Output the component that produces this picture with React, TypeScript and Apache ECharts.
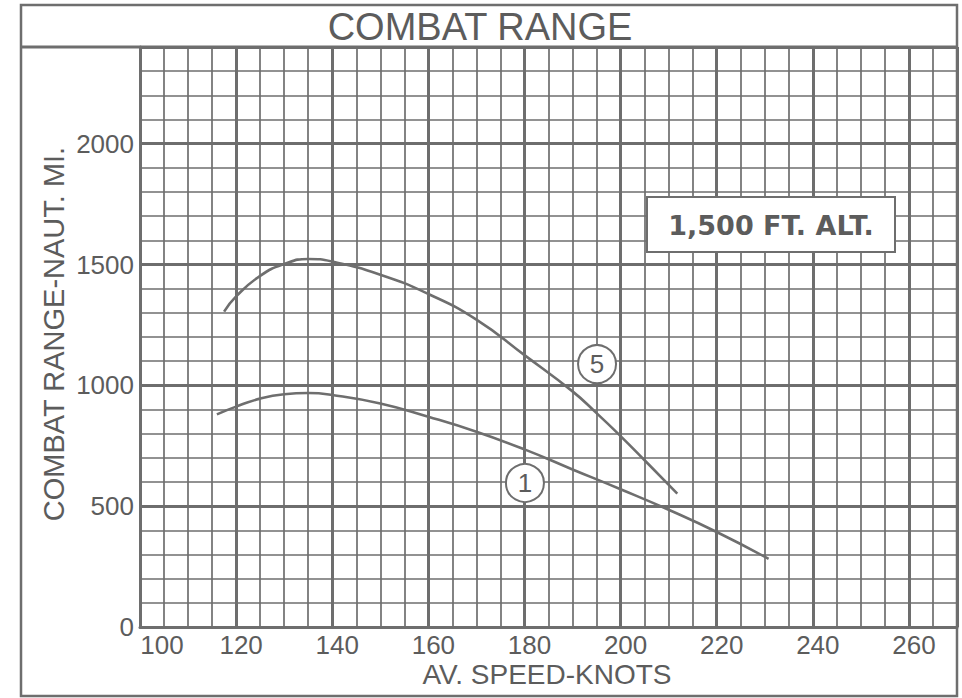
import React, { useEffect, useRef } from 'react';
import * as echarts from 'echarts';

// Curve "5"
const speed5 = [117.5, 120, 125, 130, 135, 140, 150, 160, 170, 180, 190, 195, 200, 205, 211.8];
const range5 = [1305, 1368, 1453, 1502, 1523, 1512, 1458, 1378, 1272, 1125, 975, 885, 790, 690, 552];
// Curve "1"
const speed1 = [116, 120, 125, 130, 135, 140, 150, 160, 170, 180, 190, 200, 210, 220, 230.8];
const range1 = [880, 912, 945, 963, 968, 960, 925, 870, 808, 735, 652, 570, 485, 393, 282];

const xTickLabels = ['100', '120', '140', '160', '180', '200', '220', '240', '260'];
const yTickLabels = ['0', '500', '1000', '1500', '2000'];

const curveNames = ['5', '1'];
const tag5 = [195.1, 1088];
const tag1 = [180.1, 596];

const chartTitle = 'COMBAT RANGE';
const xTitle = 'AV. SPEED-KNOTS';
const yTitle = 'COMBAT RANGE-NAUT. MI.';
const noteText = '1,500 FT. ALT.';

const GRAY = '#6e6e6e';
const TEXT = '#5c5c5c';
const FONT = "'Liberation Sans', Arial, sans-serif";

export default function App() {
  const ref = useRef<HTMLDivElement>(null);
  useEffect(() => {
    const chart = echarts.init(ref.current as HTMLDivElement, null, { renderer: 'svg' });
    const mkSeries = (name: string, xs: number[], ys: number[], tag: number[]) => ({
      type: 'line',
      name,
      data: xs.map((x, i) => [x, ys[i]]),
      smooth: 0.5,
      showSymbol: false,
      symbol: 'none',
      lineStyle: { color: GRAY, width: 2.6 },
      z: 5,
      markPoint: {
        symbol: 'circle',
        symbolSize: 38,
        itemStyle: { color: '#ffffff', borderColor: GRAY, borderWidth: 2 },
        label: { show: true, formatter: name, color: TEXT, fontSize: 26, fontFamily: FONT },
        data: [{ coord: tag, value: name }],
        z: 10,
      },
    });
    const option = {
      animation: false,
      backgroundColor: '#ffffff',
      grid: { left: 140, top: 47, right: 5, bottom: 71, show: false },
      xAxis: [
        {
          type: 'value',
          min: 100,
          max: 270,
          interval: 20,
          axisLine: { show: true, onZero: false, lineStyle: { color: GRAY, width: 3 } },
          axisTick: { show: false },
          splitLine: { show: true, lineStyle: { color: GRAY, width: 3 } },
          axisLabel: {
            margin: 5,
            color: TEXT,
            fontSize: 26,
            fontFamily: FONT,
            padding: [0, 0, 0, 10],
            formatter: (v: number) => {
              const s = String(v);
              if (!xTickLabels.includes(s)) return '';
              return v === 100 ? '{f|' + s + '}' : s;
            },
            rich: {
              f: { color: TEXT, fontSize: 26, fontFamily: FONT, padding: [0, 0, 0, 34] },
            },
          },
        },
        {
          type: 'value',
          min: 100,
          max: 270,
          interval: 5,
          position: 'top',
          axisLine: { show: false },
          axisTick: { show: false },
          axisLabel: { show: false },
          splitLine: { show: true, lineStyle: { color: GRAY, width: 1.7 } },
        },
      ],
      yAxis: [
        {
          type: 'value',
          min: 0,
          max: 2400,
          interval: 500,
          axisLine: { show: true, onZero: false, lineStyle: { color: GRAY, width: 3 } },
          axisTick: { show: false },
          splitLine: { show: true, lineStyle: { color: GRAY, width: 3 } },
          axisLabel: {
            margin: 6,
            color: TEXT,
            fontSize: 26,
            fontFamily: FONT,
            formatter: (v: number) => (yTickLabels.includes(String(v)) ? String(v) : ''),
          },
        },
        {
          type: 'value',
          min: 0,
          max: 2400,
          interval: 100,
          position: 'right',
          axisLine: { show: false },
          axisTick: { show: false },
          axisLabel: { show: false },
          splitLine: { show: true, lineStyle: { color: GRAY, width: 1.7 } },
        },
      ],
      series: [
        mkSeries(curveNames[0], speed5, range5, tag5),
        mkSeries(curveNames[1], speed1, range1, tag1),
      ],
      graphic: [
        {
          type: 'rect',
          z: 50,
          shape: { x: 21, y: 5, width: 936, height: 691 },
          style: { fill: 'none', stroke: GRAY, lineWidth: 2.5 },
        },
        {
          type: 'line',
          z: 50,
          shape: { x1: 21, y1: 47, x2: 957, y2: 47 },
          style: { stroke: GRAY, lineWidth: 3 },
        },
        {
          type: 'text',
          z: 50,
          x: 480,
          y: 27,
          style: {
            text: chartTitle,
            align: 'center',
            verticalAlign: 'middle',
            fill: TEXT,
            font: "38px 'Liberation Sans', Arial, sans-serif",
          },
        },
        {
          type: 'text',
          z: 50,
          x: 547,
          y: 674,
          style: {
            text: xTitle,
            align: 'center',
            verticalAlign: 'middle',
            fill: TEXT,
            font: "28px 'Liberation Sans', Arial, sans-serif",
          },
        },
        {
          type: 'text',
          z: 50,
          x: 54,
          y: 334,
          rotation: Math.PI / 2,
          style: {
            text: yTitle,
            align: 'center',
            verticalAlign: 'middle',
            fill: TEXT,
            font: "29px 'Liberation Sans', Arial, sans-serif",
          },
        },
        {
          type: 'rect',
          z: 50,
          shape: { x: 647, y: 197, width: 248, height: 55 },
          style: { fill: '#ffffff', stroke: GRAY, lineWidth: 2 },
        },
        {
          type: 'text',
          z: 51,
          x: 771,
          y: 225,
          style: {
            text: noteText,
            align: 'center',
            verticalAlign: 'middle',
            fill: TEXT,
            font: "bold 27px 'DejaVu Sans', sans-serif",
          },
        },
      ],
    };
    chart.setOption(option as any);
    return () => chart.dispose();
  }, []);
  return (
    <div
      ref={ref}
      style={{ position: 'fixed', left: 0, top: 0, width: 962, height: 698, background: '#fff' }}
    />
  );
}
